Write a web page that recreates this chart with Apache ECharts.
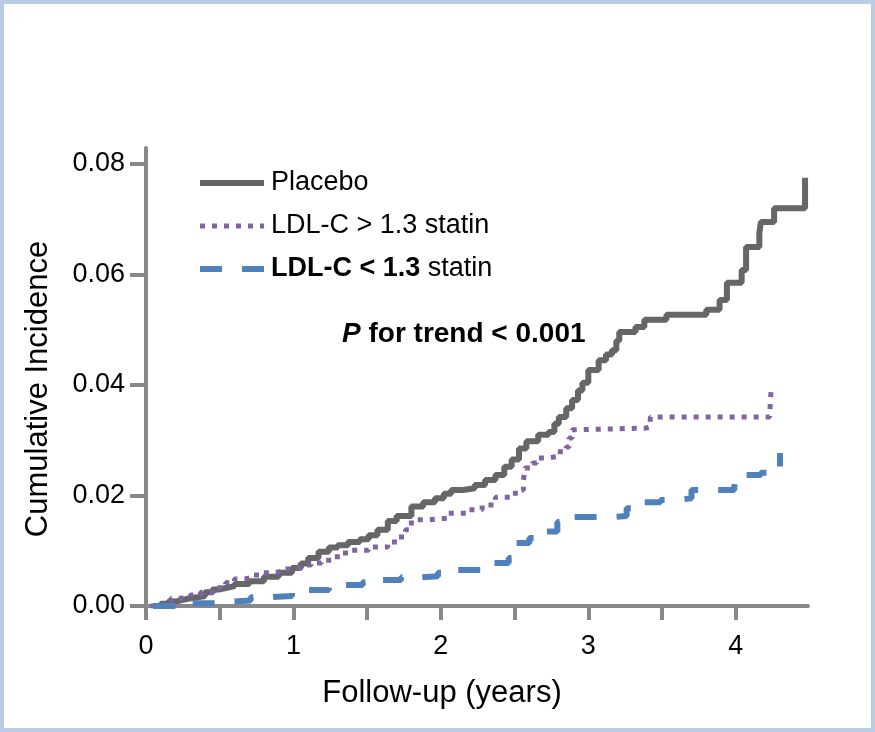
<!DOCTYPE html>
<html>
<head>
<meta charset="utf-8">
<script src="https://cdn.jsdelivr.net/npm/echarts@6/dist/echarts.min.js"></script>
<style>
html,body{margin:0;padding:0;background:#fff;}
#chart{width:875px;height:732px;}
</style>
</head>
<body>
<div id="chart"></div>
<script>
// ---- data (years, cumulative incidence) ----
const seriesNames = ['Placebo', 'LDL-C > 1.3 statin', 'LDL-C < 1.3 statin'];

const placebo = [
  [0.05,0],[0.10,0.0004],[0.15,0.0008],[0.20,0.0011],[0.25,0.0014],[0.30,0.0016],
  [0.35,0.0018],[0.40,0.0025],[0.45,0.0030],[0.50,0.0033],[0.55,0.0036],[0.60,0.0040],
  [0.70,0.0045],[0.80,0.0053],[0.90,0.0060],[0.99,0.0069],[1.05,0.0077],[1.10,0.0087],
  [1.17,0.0098],[1.24,0.0106],[1.30,0.0110],[1.37,0.0116],[1.45,0.0121],[1.51,0.0128],
  [1.57,0.0138],[1.64,0.0154],[1.70,0.0163],[1.80,0.0180],[1.88,0.0188],[1.96,0.0195],
  [2.02,0.0203],[2.07,0.0210],[2.15,0.0213],[2.23,0.0219],[2.30,0.0228],[2.37,0.0237],
  [2.43,0.0252],[2.48,0.0265],[2.53,0.0285],[2.58,0.0298],[2.66,0.0310],[2.73,0.0315],
  [2.77,0.0330],[2.80,0.0342],[2.85,0.0358],[2.89,0.0373],[2.93,0.0390],[2.96,0.0404],
  [3.00,0.0427],[3.07,0.0445],[3.12,0.0455],[3.16,0.0463],[3.19,0.0480],[3.21,0.0496],
  [3.32,0.0505],[3.38,0.0518],[3.53,0.0527],[3.80,0.0536],[3.89,0.0554],[3.94,0.0585],
  [4.04,0.0608],[4.07,0.0650],[4.16,0.0675],[4.17,0.0695],[4.26,0.0720],[4.47,0.0775]
];

const ldlHigh = [
  [0.03,0],[0.12,0.0007],[0.17,0.0014],[0.23,0.0016],[0.30,0.0020],[0.37,0.0025],
  [0.46,0.0033],[0.54,0.0042],[0.60,0.0049],[0.67,0.0052],[0.73,0.0056],[0.79,0.0060],
  [0.86,0.0063],[0.93,0.0067],[1.01,0.0070],[1.07,0.0074],[1.12,0.0078],[1.19,0.0083],
  [1.26,0.0089],[1.32,0.0096],[1.37,0.0101],[1.51,0.0107],[1.64,0.0116],[1.71,0.0125],
  [1.76,0.0138],[1.80,0.0156],[1.92,0.0159],[2.05,0.0168],[2.19,0.0174],[2.28,0.0183],
  [2.37,0.0197],[2.48,0.0204],[2.54,0.0210],[2.56,0.0228],[2.57,0.0250],[2.62,0.0259],
  [2.65,0.0268],[2.73,0.0270],[2.78,0.0279],[2.85,0.0288],[2.87,0.0304],[2.89,0.0319],
  [2.91,0.0322],[3.39,0.0324],[3.42,0.0342],[4.23,0.0346],[4.24,0.0393]
];

const ldlLow = [
  [0.05,0],[0.30,0.0005],[0.50,0.0008],[0.58,0.0010],[0.71,0.0016],[0.85,0.0018],
  [0.99,0.0024],[1.08,0.0029],[1.24,0.0034],[1.34,0.0038],[1.47,0.0043],[1.60,0.0047],
  [1.73,0.0052],[1.86,0.0054],[1.98,0.0060],[2.10,0.0065],[2.30,0.0068],[2.34,0.0078],
  [2.46,0.0087],[2.48,0.0114],[2.60,0.0123],[2.71,0.0135],[2.79,0.0152],[2.87,0.0161],
  [3.16,0.0163],[3.26,0.0177],[3.34,0.0188],[3.49,0.0192],[3.61,0.0195],[3.70,0.0210],
  [3.99,0.0215],[4.00,0.0237],[4.17,0.0241],[4.30,0.0277]
];

const xTicks = [0,0.5,1,1.5,2,2.5,3,3.5,4];
const xLabels = [0,1,2,3,4];
const yTicks = [0,0.02,0.04,0.06,0.08];

const chart = echarts.init(document.getElementById('chart'), null, {renderer:'canvas'});
const axisColor = '#888888';
const font = 'Liberation Sans, Arial, sans-serif';

chart.setOption({
  animation: false,
  backgroundColor: '#ffffff',
  grid: {left: 146, right: 67, top: 148, bottom: 126},
  xAxis: {
    type: 'value', min: 0, max: 4.49,
    name: 'Follow-up (years)', nameLocation: 'middle', nameGap: 72,
    nameTextStyle: {fontFamily: font, fontSize: 31, color: '#000', padding: [0, 70, 0, 0]},
    axisLine: {show: true, lineStyle: {color: axisColor, width: 4}},
    axisTick: {show: true, customValues: xTicks, length: 14, lineStyle: {color: axisColor, width: 4}},
    axisLabel: {customValues: xLabels, margin: 27, fontFamily: font, fontSize: 27, color: '#000',
      formatter: v => String(v)},
    splitLine: {show: false}
  },
  yAxis: {
    type: 'value', min: 0, max: 0.0829,
    name: 'Cumulative Incidence', nameLocation: 'middle', nameGap: 92,
    nameTextStyle: {fontFamily: font, fontSize: 31, color: '#000', padding: [0, 24, 0, 0]},
    axisLine: {show: true, lineStyle: {color: axisColor, width: 4}},
    axisTick: {show: true, customValues: yTicks, length: 16, lineStyle: {color: axisColor, width: 4}},
    axisLabel: {customValues: yTicks, margin: 21, fontFamily: font, fontSize: 27, color: '#000',
      formatter: v => v.toFixed(2)},
    splitLine: {show: false}
  },
  legend: {
    orient: 'vertical', left: 197, top: 169, padding: 0,
    itemWidth: 64, itemHeight: 28, itemGap: 15,
    data: seriesNames,
    itemStyle: {opacity: 0},
    lineStyle: {width: 'inherit', type: 'inherit'},
    textStyle: {fontFamily: font, fontSize: 27, color: '#000', lineHeight: 28, padding: [0, 0, 0, 2],
      rich: {b: {fontFamily: font, fontSize: 27, fontWeight: 'bold', color: '#000'}}},
    formatter: name => name === 'LDL-C < 1.3 statin' ? '{b|LDL-C < 1.3} statin' : name
  },
  graphic: [
    {type: 'rect', silent: true, z: 100,
      shape: {x: 2, y: 2, width: 871, height: 728},
      style: {fill: 'none', stroke: '#b8cce4', lineWidth: 4}},
    {type: 'text', left: 342, top: 320, z: 100,
      style: {text: '{i|P} for trend < 0.001', fontFamily: font, fontSize: 28, fontWeight: 'bold', fill: '#000',
        rich: {i: {fontFamily: font, fontSize: 28, fontWeight: 'bold', fontStyle: 'italic', fill: '#000'}}}}
  ],
  series: [
    {name: seriesNames[0], type: 'line', step: 'end', data: placebo, symbol: 'none',
      lineStyle: {color: '#666666', width: 6, type: 'solid'}, itemStyle: {color: '#666666'}, z: 2},
    {name: seriesNames[1], type: 'line', step: 'end', data: ldlHigh, symbol: 'none',
      lineStyle: {color: '#8064a2', width: 5, type: [5, 7]}, itemStyle: {color: '#8064a2'}, z: 3},
    {name: seriesNames[2], type: 'line', step: 'end', data: ldlLow, symbol: 'none',
      lineStyle: {color: '#4f81bd', width: 6, type: [22, 20]}, itemStyle: {color: '#4f81bd'}, z: 4}
  ]
});
</script>
</body>
</html>
